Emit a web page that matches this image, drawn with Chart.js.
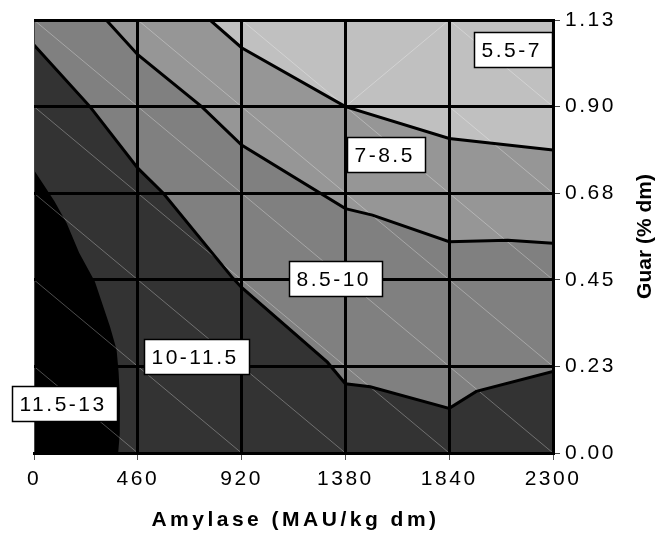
<!DOCTYPE html>
<html>
<head>
<meta charset="utf-8">
<script src="https://cdn.jsdelivr.net/npm/chart.js@4.4.1/dist/chart.umd.min.js"></script>
<style>
  html, body { margin: 0; padding: 0; background: #fff; }
</style>
</head>
<body>
<canvas id="contour" width="657" height="535"></canvas>
<script>
// ================= DATA =================
const xTicks = [0, 460, 920, 1380, 1840, 2300];
const xTickLabels = ["0", "460", "920", "1380", "1840", "2300"];
const yTicks = [0, 0.225, 0.45, 0.675, 0.9, 1.125];
const yTickLabels = ["0.00", "0.23", "0.45", "0.68", "0.90", "1.13"];

// contour boundaries (amylase, guar)
const b7x = [780, 920, 1380, 1840, 2300];
const b7y = [1.125, 1.053, 0.900, 0.817, 0.787];
const b85x = [320, 460, 743, 920, 1380, 1500, 1840, 2100, 2300];
const b85y = [1.125, 1.035, 0.900, 0.800, 0.635, 0.618, 0.549, 0.553, 0.545];
const b10x = [0, 248, 460, 573, 880, 920, 1300, 1380, 1490, 1840, 1960, 2300];
const b10y = [1.060, 0.900, 0.740, 0.675, 0.455, 0.430, 0.236, 0.180, 0.172, 0.116, 0.160, 0.212];
const b115x = [0, 90, 145, 200, 270, 337, 366, 375, 381, 380, 373];
const b115y = [0.735, 0.655, 0.597, 0.520, 0.445, 0.328, 0.268, 0.210, 0.140, 0.050, 0];

const bands = ["5.5-7", "7-8.5", "8.5-10", "10-11.5", "11.5-13"];
const bandColors = ["#c0c0c0", "#969696", "#808080", "#333333", "#000000"];

const xTitle = "Amylase (MAU/kg dm)";
const yTitle = "Guar (% dm)";

// ================= LAYOUT =================
const FONT = '"Liberation Sans", Arial, sans-serif';
// top-left corner of each band label box, in axis units
const labelAt = [[1950, 1.095], [1388, 0.822], [1131, 0.499], [489, 0.295], [-96, 0.174]];

// ================= SHAPES =================
const pts = (xs, ys) => xs.map((x, i) => ({ x, y: ys[i] }));
const X0 = xTicks[0], X1 = xTicks[xTicks.length - 1];
const Y0 = yTicks[0], Y1 = yTicks[yTicks.length - 1];

const polys = [
  [{ x: X0, y: Y0 }, { x: X1, y: Y0 }, { x: X1, y: Y1 }, { x: X0, y: Y1 }],
  [...pts(b7x, b7y), { x: X1, y: Y0 }, { x: X0, y: Y0 }, { x: X0, y: Y1 }],
  [...pts(b85x, b85y), { x: X1, y: Y0 }, { x: X0, y: Y0 }, { x: X0, y: Y1 }],
  [...pts(b10x, b10y), { x: X1, y: Y0 }, { x: X0, y: Y0 }],
  [...pts(b115x, b115y), { x: X0, y: Y0 }]
];

// faint surface mesh diagonals, one per grid cell
const mesh = [];
for (let i = 0; i < xTicks.length - 1; i++) {
  for (let j = 0; j < yTicks.length - 1; j++) {
    const flip = i === 3 && j === 4;
    mesh.push(
      { x: xTicks[i], y: flip ? yTicks[j] : yTicks[j + 1] },
      { x: xTicks[i + 1], y: flip ? yTicks[j + 1] : yTicks[j] },
      { x: xTicks[i + 1], y: null }
    );
  }
}

const datasets = [];
polys.forEach((p, i) => {
  datasets.push({
    data: p,
    showLine: true,
    fill: "shape",
    backgroundColor: bandColors[i],
    borderWidth: 0,
    pointRadius: 0,
    tension: 0,
    order: 20 - i
  });
});
datasets.push({
  data: mesh,
  showLine: true,
  spanGaps: false,
  fill: false,
  borderColor: "rgba(255,255,255,0.3)",
  borderWidth: 1,
  pointRadius: 0,
  order: 5
});
[[b7x, b7y], [b85x, b85y], [b10x, b10y]].forEach(([xs, ys]) => {
  datasets.push({
    data: pts(xs, ys),
    showLine: true,
    fill: false,
    borderColor: "#000",
    borderWidth: 3,
    pointRadius: 0,
    tension: 0,
    order: 1
  });
});

// ================= OVERLAY (labels, titles) =================
const overlay = {
  id: "overlay",
  beforeDraw(chart) {
    chart.ctx.letterSpacing = "2.5px";
  },
  afterDraw(chart) {
    const { ctx, chartArea, scales: { x, y } } = chart;
    ctx.save();

    ctx.font = "21px " + FONT;
    ctx.letterSpacing = "2.5px";
    ctx.textBaseline = "middle";
    ctx.textAlign = "left";
    bands.forEach((t, i) => {
      const left = Math.round(x.getPixelForValue(labelAt[i][0])) + 0.5;
      const top = Math.round(y.getPixelForValue(labelAt[i][1])) + 0.5;
      const w = Math.round(ctx.measureText(t).width + 18);
      ctx.fillStyle = "#fff";
      ctx.fillRect(left, top, w, 35);
      ctx.lineWidth = 1.5;
      ctx.strokeStyle = "#000";
      ctx.strokeRect(left, top, w, 35);
      ctx.fillStyle = "#000";
      ctx.fillText(t, left + 7, top + 18.5);
    });

    // x title
    ctx.font = "bold 21px " + FONT;
    ctx.letterSpacing = "3.5px";
    ctx.textAlign = "center";
    ctx.fillText(xTitle, (chartArea.left + chartArea.right) / 2 + 2, 520);

    // y title, reads bottom to top
    ctx.letterSpacing = "0px";
    ctx.translate(645, (chartArea.top + chartArea.bottom) / 2);
    ctx.rotate(-Math.PI / 2);
    ctx.fillText(yTitle, 0, 0);

    ctx.restore();
  }
};

// ================= CHART =================
new Chart(document.getElementById("contour"), {
  type: "scatter",
  data: { datasets },
  options: {
    responsive: false,
    animation: false,
    layout: { padding: { left: 34, top: 20, right: 0, bottom: 0 } },
    plugins: { legend: { display: false }, tooltip: { enabled: false } },
    scales: {
      x: {
        type: "linear",
        position: "bottom",
        min: X0,
        max: X1,
        afterBuildTicks: (s) => { s.ticks = xTicks.map((v) => ({ value: v })); },
        afterFit: (s) => { s.height = 82; },
        grid: {
          z: 1,
          color: (c) => (c.index === 0 ? "#444" : "#000"),
          lineWidth: (c) => (c.index === 0 ? 1 : 3),
          tickLength: 7,
          tickColor: "#555",
          tickWidth: 1
        },
        border: { z: 2, color: "#000", width: 3 },
        ticks: {
          color: "#000",
          padding: 7,
          maxRotation: 0,
          font: { family: FONT, size: 21 },
          callback: (v, i) => xTickLabels[i]
        }
      },
      y: {
        type: "linear",
        position: "right",
        min: Y0,
        max: Y1,
        afterBuildTicks: (s) => { s.ticks = yTicks.map((v) => ({ value: v })); },
        afterFit: (s) => { s.width = 104; },
        grid: {
          z: 1,
          color: "#000",
          lineWidth: 3,
          tickLength: 7,
          tickColor: "#444",
          tickWidth: 1
        },
        border: { z: 2, color: "#000", width: 3 },
        ticks: {
          color: "#000",
          padding: 5,
          font: { family: FONT, size: 21 },
          callback: (v, i) => yTickLabels[i]
        }
      }
    }
  },
  plugins: [overlay]
});
</script>
</body>
</html>
